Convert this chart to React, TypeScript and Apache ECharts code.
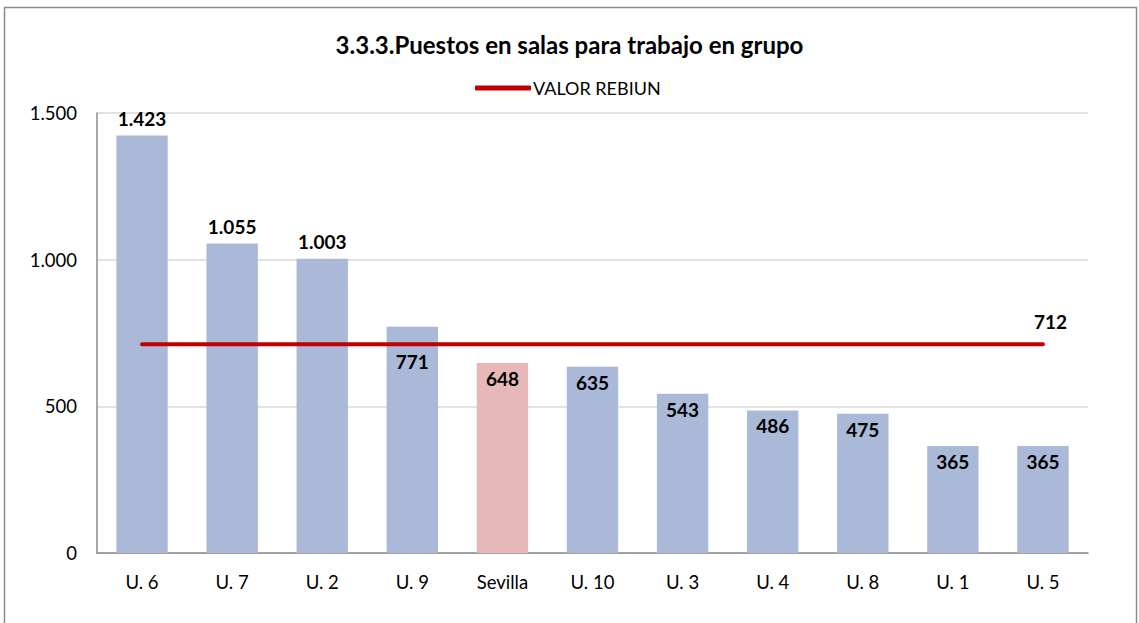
import React, { useEffect, useRef } from "react";
import * as echarts from "echarts";

const categories = ["U. 6", "U. 7", "U. 2", "U. 9", "Sevilla", "U. 10", "U. 3", "U. 4", "U. 8", "U. 1", "U. 5"];
const values = [1423, 1055, 1003, 771, 648, 635, 543, 486, 475, 365, 365];
const rebiun = 712;
const highlight = "Sevilla";
const outsideLabelIdx = [0, 1, 2];

const fmt = (v: number) => String(Math.round(v)).replace(/\B(?=(\d{3})+(?!\d))/g, ".");

const FONT = "Lato, 'Open Sans', sans-serif";

export default function App() {
  const ref = useRef<HTMLDivElement>(null);
  useEffect(() => {
    const chart = echarts.init(ref.current!, null, { renderer: "svg" });
    const barData = values.map((v, i) => {
      const item: any = {
        value: v,
        itemStyle: { color: categories[i] === highlight ? "#E6B9B8" : "#AAB9D7" },
      };
      if (outsideLabelIdx.includes(i)) {
        item.label = { position: "top", distance: 8 };
      } else if (i === 3) {
        item.label = { position: "insideTop", distance: 25 };
      } else {
        item.label = { position: "insideTop", distance: 6 };
      }
      return item;
    });
    chart.setOption({
      animation: false,
      textStyle: { fontFamily: FONT },
      title: {
        text: "3.3.3.Puestos en salas para trabajo en grupo",
        left: "center",
        top: 27,
        textStyle: { fontSize: 24, fontWeight: "bold", color: "#000", fontFamily: FONT },
      },
      legend: {
        data: [{ name: "VALOR REBIUN", icon: "roundRect" }],
        top: 74,
        left: 470,
        itemWidth: 56,
        itemHeight: 5,
        itemGap: 4,
        textStyle: { fontSize: 18, color: "#000", fontFamily: FONT, padding: [0, 0, 0, -3] },
      },
      graphic: [
        {
          type: "rect",
          shape: { x: 4.5, y: 7.5, width: 1132, height: 640 },
          style: { fill: "none", stroke: "#8a8a8a", lineWidth: 1.5 },
          silent: true,
        },
      ],
      grid: { left: 97, right: 51, top: 113, bottom: 70 },
      xAxis: {
        type: "category",
        data: categories,
        axisLine: { lineStyle: { color: "#8c8c8c", width: 1.5 } },
        axisTick: { show: false },
        axisLabel: { fontSize: 18.5, color: "#000", margin: 19, fontFamily: FONT },
      },
      yAxis: {
        type: "value",
        min: 0,
        max: 1500,
        interval: 500,
        axisLine: { show: true, lineStyle: { color: "#8c8c8c", width: 1.5 } },
        axisTick: { show: false },
        splitLine: { lineStyle: { color: "#D9D9D9", width: 1.5 } },
        axisLabel: { fontSize: 18.5, color: "#000", margin: 20, formatter: (v: number) => fmt(v), fontFamily: FONT },
      },
      series: [
        {
          type: "bar",
          name: "Puestos",
          data: barData,
          barWidth: "57%",
          label: {
            show: true,
            fontSize: 19,
            fontWeight: "bold",
            color: "#000",
            fontFamily: FONT,
            formatter: (p: any) => fmt(p.value),
          },
          z: 2,
        },
        {
          type: "line",
          name: "VALOR REBIUN",
          data: categories.map(() => rebiun),
          symbol: "none",
          lineStyle: { color: "#C00000", width: 4, cap: "round" },
          itemStyle: { color: "#C00000" },
          endLabel: {
            show: true,
            distance: 0,
            offset: [-9, -23],
            fontSize: 19,
            fontWeight: "bold",
            color: "#000",
            fontFamily: FONT,
            formatter: (p: any) => fmt(p.value),
          },
          z: 3,
        },
      ],
    });
    return () => chart.dispose();
  }, []);
  return (
    <div
      ref={ref}
      style={{ position: "fixed", left: 0, top: 0, width: 1139, height: 623, background: "#fff" }}
    />
  );
}
